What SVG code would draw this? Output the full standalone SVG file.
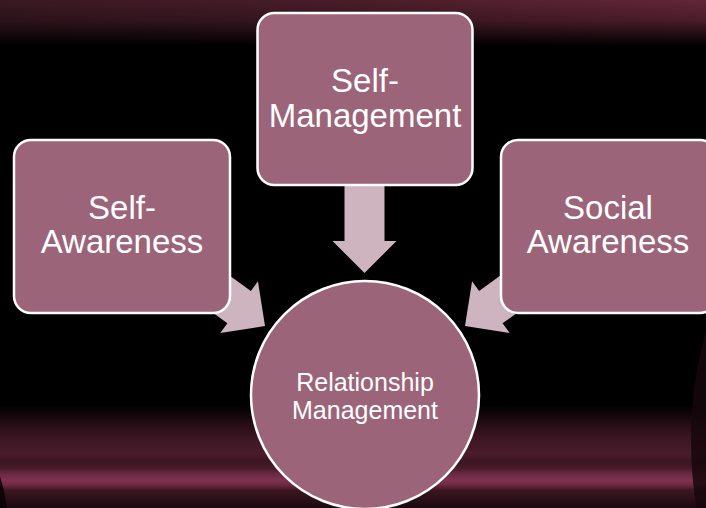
<svg xmlns="http://www.w3.org/2000/svg" xmlns:xlink="http://www.w3.org/1999/xlink" width="706" height="508" viewBox="0 0 706 508">
  <defs>
    <style>
      .box { fill: #9c6478; stroke: #ffffff; stroke-width: 2.5; }
      .lbl { font-family: "Liberation Sans", Arial, sans-serif; fill: #ffffff; text-anchor: middle; }
      .big { font-size: 33px; }
      .small { font-size: 25px; }
      .arrow { fill: #cdb4be; }
    </style>
    <!-- horizontal tint of the top band -->
    <linearGradient id="topTint" x1="0" y1="0" x2="1" y2="0">
      <stop offset="0" stop-color="#3a1923"/>
      <stop offset="0.5" stop-color="#4a1d2b"/>
      <stop offset="1" stop-color="#642637"/>
    </linearGradient>
    <linearGradient id="topFadeGrad" x1="0" y1="0" x2="0" y2="1">
      <stop offset="0" stop-color="#ffffff"/>
      <stop offset="0.45" stop-color="#bbbbbb"/>
      <stop offset="1" stop-color="#000000"/>
    </linearGradient>
    <mask id="topFade" maskUnits="userSpaceOnUse" x="0" y="0" width="706" height="46">
      <rect x="0" y="0" width="706" height="46" fill="url(#topFadeGrad)"/>
    </mask>
    <!-- streaked band along the bottom -->
    <linearGradient id="bottomBand" gradientUnits="userSpaceOnUse" x1="0" y1="405" x2="0" y2="508">
      <stop offset="0" stop-color="#000000"/>
      <stop offset="0.18" stop-color="#240c15"/>
      <stop offset="0.33" stop-color="#3c1723"/>
      <stop offset="0.47" stop-color="#4a1c2c"/>
      <stop offset="0.55" stop-color="#3c1622"/>
      <stop offset="0.61" stop-color="#451a29"/>
      <stop offset="0.67" stop-color="#6a2942"/>
      <stop offset="0.73" stop-color="#7e3350"/>
      <stop offset="0.78" stop-color="#6a2840"/>
      <stop offset="0.83" stop-color="#3a1520"/>
      <stop offset="0.91" stop-color="#2c1019"/>
      <stop offset="1" stop-color="#1a090f"/>
    </linearGradient>
    <!-- block arrow pointing along +x, starting at the origin -->
    <polygon id="blockArrow" points="0,-20 58,-20 58,-32 90,0 58,32 58,20 0,20"/>
  </defs>

  <!-- background -->
  <rect x="0" y="0" width="706" height="508" fill="#000000"/>
  <rect x="0" y="0" width="706" height="46" fill="url(#topTint)" mask="url(#topFade)"/>
  <rect x="0" y="405" width="706" height="103" fill="url(#bottomBand)"/>
  <ellipse cx="775" cy="440" rx="84" ry="190" fill="#16070c" opacity="0.85"/>
  <ellipse cx="-38" cy="530" rx="46" ry="95" fill="#0c0306" opacity="0.9"/>

  <!-- connectors -->
  <g id="connectors" class="arrow">
    <use xlink:href="#blockArrow" transform="translate(364.5,183) rotate(90)"/>
    <use xlink:href="#blockArrow" transform="translate(192.2,273.1) rotate(36)"/>
    <use xlink:href="#blockArrow" transform="translate(537.8,273.1) rotate(144)"/>
  </g>

  <g id="self-awareness">
    <rect class="box" x="14" y="140" width="216" height="173" rx="17"/>
    <text class="lbl big"><tspan x="122" y="219">Self-</tspan><tspan x="122" y="253">Awareness</tspan></text>
  </g>

  <g id="self-management">
    <rect class="box" x="257.5" y="13" width="215" height="172" rx="17"/>
    <text class="lbl big"><tspan x="365" y="92">Self-</tspan><tspan x="365" y="127">Management</tspan></text>
  </g>

  <g id="social-awareness">
    <rect class="box" x="501" y="140" width="216" height="173" rx="17"/>
    <text class="lbl big"><tspan x="608" y="219">Social</tspan><tspan x="608" y="253">Awareness</tspan></text>
  </g>

  <g id="relationship-management">
    <circle class="box" cx="365" cy="395" r="114"/>
    <text class="lbl small"><tspan x="365" y="391">Relationship</tspan><tspan x="365" y="419">Management</tspan></text>
  </g>
</svg>
